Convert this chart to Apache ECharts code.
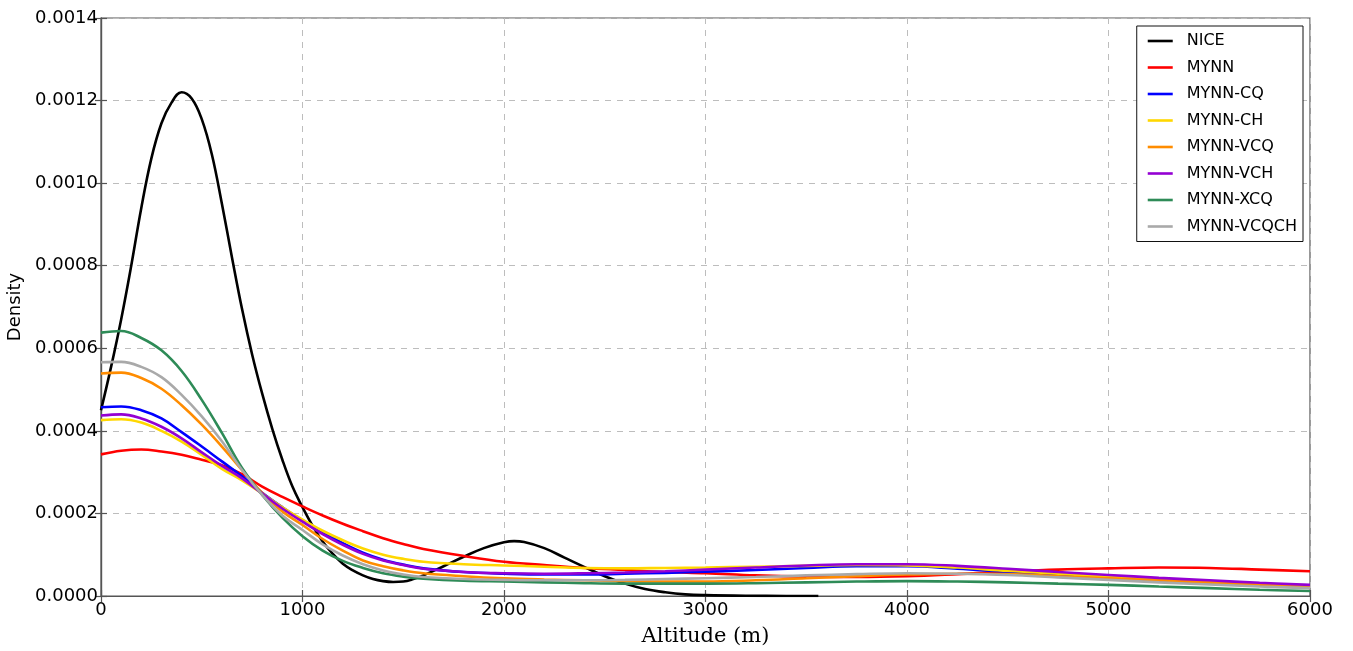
<!DOCTYPE html>
<html>
<head>
<meta charset="utf-8">
<script src="https://cdn.jsdelivr.net/npm/echarts@6/dist/echarts.min.js"></script>
<style>html,body{margin:0;padding:0;background:#fff;}#c{width:1353px;height:651px;}</style>
</head>
<body>
<div id="c"></div>
<script>
// ---- data (density values in units of 1e-4) ----
const niceAlt = [0,50,100,150,200,250,300,350,400,450,500,550,600,650,700,750,800,850,900,950,1000,1050,1100,1150,1200,1250,1300,1350,1400,1450,1500,1550,1600,1700,1800,1900,2000,2050,2100,2200,2300,2400,2500,2600,2700,2800,2900,3000,3200,3400,3560];
const niceVal = [4.5,5.55,6.7,8.0,9.4,10.6,11.45,11.95,12.2,12.05,11.55,10.7,9.5,8.2,6.95,5.85,4.9,4.05,3.3,2.65,2.15,1.7,1.32,1.02,0.78,0.62,0.5,0.41,0.36,0.34,0.35,0.41,0.5,0.72,0.95,1.16,1.3,1.33,1.31,1.16,0.93,0.7,0.48,0.3,0.17,0.09,0.04,0.02,0.005,0.001,0];

const altitudes = [0,100,200,300,400,500,600,700,800,900,1000,1100,1200,1300,1400,1500,1600,1800,2000,2200,2400,2600,2800,3000,3250,3500,3750,4000,4250,4500,4750,5000,5250,5500,5750,6000];
const mynn   = [3.43,3.52,3.55,3.5,3.42,3.3,3.17,2.95,2.65,2.4,2.17,1.95,1.75,1.57,1.4,1.26,1.14,0.97,0.83,0.75,0.68,0.63,0.58,0.55,0.5,0.47,0.46,0.48,0.53,0.59,0.64,0.67,0.69,0.68,0.64,0.6];
const mynnCQ = [4.57,4.59,4.5,4.3,3.97,3.62,3.26,2.9,2.5,2.15,1.83,1.55,1.28,1.05,0.88,0.76,0.67,0.58,0.54,0.52,0.52,0.54,0.56,0.59,0.63,0.68,0.72,0.72,0.66,0.58,0.51,0.45,0.38,0.33,0.28,0.24];
const mynnCH = [4.26,4.28,4.2,4.0,3.74,3.42,3.08,2.8,2.48,2.15,1.85,1.58,1.35,1.15,1.0,0.9,0.83,0.77,0.74,0.71,0.68,0.67,0.68,0.69,0.71,0.73,0.75,0.74,0.69,0.61,0.54,0.47,0.4,0.34,0.29,0.24];
const mynnVCQ = [5.39,5.41,5.28,5.02,4.62,4.15,3.62,3.05,2.5,2.05,1.72,1.38,1.1,0.86,0.72,0.62,0.55,0.48,0.43,0.4,0.38,0.36,0.35,0.35,0.38,0.43,0.48,0.52,0.54,0.53,0.48,0.43,0.38,0.33,0.28,0.24];
const mynnVCH = [4.37,4.4,4.3,4.1,3.82,3.48,3.15,2.85,2.48,2.12,1.8,1.5,1.24,1.02,0.86,0.75,0.66,0.58,0.55,0.54,0.55,0.57,0.6,0.64,0.69,0.74,0.77,0.77,0.73,0.66,0.58,0.51,0.44,0.38,0.32,0.27];
const mynnXCQ = [6.38,6.42,6.25,5.95,5.45,4.75,3.95,3.1,2.45,1.9,1.45,1.1,0.85,0.68,0.55,0.47,0.42,0.37,0.35,0.33,0.31,0.3,0.3,0.3,0.31,0.33,0.35,0.36,0.35,0.33,0.3,0.27,0.23,0.19,0.15,0.12];
const mynnVCQCH = [5.66,5.67,5.55,5.3,4.87,4.35,3.75,3.05,2.45,1.95,1.6,1.25,0.98,0.77,0.62,0.52,0.46,0.41,0.39,0.38,0.38,0.39,0.41,0.43,0.46,0.5,0.53,0.55,0.54,0.51,0.45,0.39,0.33,0.28,0.23,0.19];

const seriesNames = ['NICE','MYNN','MYNN-CQ','MYNN-CH','MYNN-VCQ','MYNN-VCH','MYNN-XCQ','MYNN-VCQCH'];
const seriesColors = ['#000000','#ff0000','#0000ff','#ffd700','#ff8c00','#9400d3','#2e8b57','#a9a9a9'];
const xTicks = [0,1000,2000,3000,4000,5000,6000];

const seriesX = [niceAlt, altitudes, altitudes, altitudes, altitudes, altitudes, altitudes, altitudes];
const seriesY = [niceVal, mynn, mynnCQ, mynnCH, mynnVCQ, mynnVCH, mynnXCQ, mynnVCQCH];

const font = 'DejaVu Sans';
const chart = echarts.init(document.getElementById('c'), null, {renderer:'canvas'});

const series = seriesNames.map((n, i) => ({
  name: n,
  type: 'line',
  smooth: 0.4,
  symbol: 'none',
  xAxisIndex: 0, yAxisIndex: 0,
  lineStyle: {color: seriesColors[i], width: 2.6},
  itemStyle: {color: seriesColors[i]},
  data: seriesX[i].map((x, k) => [x, seriesY[i][k] * 1e-4]),
  z: 2 + i
}));

const axisLineStyle = {color: '#555', width: 1.2};
chart.setOption({
  animation: false,
  backgroundColor: '#fff',
  grid: {left: 101, right: 43, top: 18, bottom: 55, show: true, borderColor: '#555', borderWidth: 1.2, containLabel: false, outerBoundsMode: 'none'},
  legend: {
    orient: 'vertical', right: 50, top: 26,
    data: seriesNames.map(n => ({name: n, icon: 'rect'})),
    itemWidth: 25, itemHeight: 2.6, itemGap: 10.5,
    padding: [7, 6, 7, 11],
    backgroundColor: '#fff', borderColor: '#111', borderWidth: 1, borderRadius: 0,
    textStyle: {fontFamily: font, fontSize: 16, color: '#000', lineHeight: 14, padding: [0,0,0,9]},
    z: 20
  },
  xAxis: [{
    type: 'value', min: 0, max: 6000, interval: 1000,
    name: 'Altitude (m)', nameLocation: 'middle', nameGap: 30,
    nameTextStyle: {fontFamily: 'DejaVu Serif', fontSize: 21, color: '#000'},
    axisLine: {show: true, lineStyle: axisLineStyle},
    axisTick: {show: true, inside: true, length: 6, lineStyle: axisLineStyle},
    axisLabel: {fontFamily: font, fontSize: 18, color: '#000', margin: 5, formatter: v => String(v)},
    splitLine: {show: true, lineStyle: {color: '#bdbdbd', type: [6, 6], width: 1}}
  }, {
    type: 'value', position: 'top', min: 0, max: 6000, interval: 1000,
    axisLine: {show: true, lineStyle: axisLineStyle},
    axisTick: {show: true, inside: true, length: 6, lineStyle: axisLineStyle},
    axisLabel: {show: false}, splitLine: {show: false}
  }],
  yAxis: [{
    type: 'value', min: 0, max: 0.0014, interval: 0.0002,
    name: 'Density', nameLocation: 'middle', nameGap: 70, nameRotate: 90,
    nameTextStyle: {fontFamily: font, fontSize: 18, color: '#000'},
    axisLine: {show: true, lineStyle: axisLineStyle},
    axisTick: {show: true, inside: true, length: 6, lineStyle: axisLineStyle},
    axisLabel: {fontFamily: font, fontSize: 18, color: '#000', margin: 3, formatter: v => v.toFixed(4)},
    splitLine: {show: true, lineStyle: {color: '#bdbdbd', type: [6, 6], width: 1}}
  }, {
    type: 'value', position: 'right', min: 0, max: 0.0014, interval: 0.0002,
    axisLine: {show: true, lineStyle: axisLineStyle},
    axisTick: {show: true, inside: true, length: 6, lineStyle: axisLineStyle},
    axisLabel: {show: false}, splitLine: {show: false}
  }],
  series: series
});
</script>
</body>
</html>
